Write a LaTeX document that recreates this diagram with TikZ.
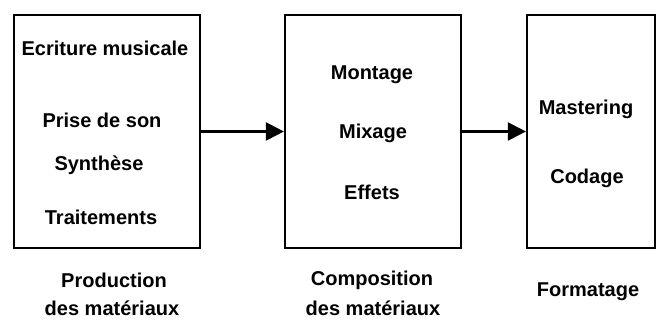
\documentclass[tikz,border=0pt]{standalone}
\usepackage{fontspec}
\setmainfont{Liberation Sans}
\usetikzlibrary{positioning,arrows.meta}
\tikzset{
	x=1pt, y=1pt, % one unit is one pixel of the drawing
	>={Triangle[length=18pt,width=18pt]}, % big filled arrow heads
	bloc/.style={draw, line width=2.2pt, inner sep=0pt}, % the three boxes
	mot/.style={font=\fontsize{20}{24}\selectfont\bfseries, inner sep=0pt}, % all the texts
}

\begin{document}
\begin{tikzpicture}
		\useasboundingbox (0,0) rectangle (661,323);
		% boxes
		\node[bloc, minimum width=186pt, minimum height=233pt] (prod) at (107,191.5) {};
		\node[bloc, minimum width=176pt, minimum height=233pt] (comp) at (373,191.5) {};
		\node[bloc, minimum width=128pt, minimum height=233pt] (form) at (591,191.5) {};
		
		% texts inside
		\node[mot] (ecr) at (105,275) {Ecriture musicale};
		\node[mot] (pri) at (102,203) {Prise de son};
		\node[mot] (syn) at (99,158) {Synthèse};
		\node[mot] (tra) at (101,106) {Traitements};
		
		\node[mot] (mon) at (372,248) {Montage};
		\node[mot] (mix) at (373,190) {Mixage};
		\node[mot] (eff) at (372,131) {Effets};
		
		\node[mot] (mas) at (586,214) {Mastering};
		\node[mot] (cod) at (587,145) {Codage};
		
		% texts below
		\node[mot] (pr1) at (114,43) {Production};
		\node[mot] (pr2) at (112,15) {des matériaux};
		\node[mot] (co1) at (372,43) {Composition};
		\node[mot] (co2) at (373,15) {des matériaux};
		\node[mot] (fo1) at (588,31) {Formatage};
		
		% arrows
		\draw[->, line width=2.2pt] (prod) -- (comp);
		\draw[->, line width=2.2pt] (comp) -- (form);
	\end{tikzpicture}
\end{document}
